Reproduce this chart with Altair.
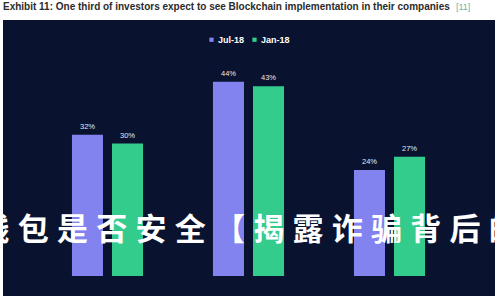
import altair as alt
import pandas as pd

# Survey answers and shares (%) for the two survey waves
categories = ["Yes", "No", "I don't know"]
jul_18 = [32, 44, 24]
jan_18 = [30, 43, 27]
series = ["Jul-18", "Jan-18"]

title_text = "Exhibit 11: One third of investors expect to see Blockchain implementation in their companies"
ref_text = "[11]"
overlay_chars = list("钱包是否安全【揭露诈骗背后的")

rows = []
for cat, a, b in zip(categories, jul_18, jan_18):
    rows.append({"answer": cat, "wave": series[0], "share": a})
    rows.append({"answer": cat, "wave": series[1], "share": b})
df = pd.DataFrame(rows)
df["label"] = df["share"].astype(str) + "%"

chars_df = pd.DataFrame({"ch": overlay_chars, "idx": range(len(overlay_chars))})

NAVY = "#09132f"
PURPLE = "#8383f0"
GREEN = "#34cc8d"
FONT = "Liberation Sans"

one = pd.DataFrame({"k": [0]})

# dark panel behind the plot
panel = alt.Chart(one).mark_rect(color=NAVY).encode(
    x=alt.value(-34), x2=alt.value(458), y=alt.value(0), y2=alt.value(276)
)

x_enc = alt.X(
    "answer:N",
    sort=categories,
    scale=alt.Scale(paddingInner=0.496, paddingOuter=0.248),
    axis=alt.Axis(
        title=None, labelAngle=0, ticks=False, labelColor="#d8dcea",
        labelFontSize=8, labelFont=FONT, labelPadding=5,
        domainColor="#7d8599", domainWidth=1,
    ),
)
xo_enc = alt.XOffset("wave:N", sort=series, scale=alt.Scale(paddingInner=0.225))
y_enc = alt.Y("share:Q", scale=alt.Scale(domain=[0, 58]), axis=None)

bars = alt.Chart(df).mark_bar().encode(
    x=x_enc,
    xOffset=xo_enc,
    y=y_enc,
    color=alt.Color(
        "wave:N",
        sort=series,
        scale=alt.Scale(domain=series, range=[PURPLE, GREEN]),
        legend=alt.Legend(
            title=None, orient="none", direction="horizontal",
            legendX=170, legendY=15, labelColor="#ffffff", labelFontSize=9,
            labelFont=FONT, labelFontWeight="bold", symbolType="square",
            symbolSize=18, symbolStrokeWidth=0, columnPadding=5, labelOffset=2,
        ),
    ),
)

labels = alt.Chart(df).mark_text(
    baseline="bottom", dy=-4, fontSize=7.5, font=FONT, color="#e6e8f2"
).encode(x=x_enc, xOffset=xo_enc, y=y_enc, text="label:N")

plot = alt.layer(panel, bars, labels)

# large white caption running across the lower half
overlay = alt.Chart(chars_df).mark_text(
    align="center", baseline="middle", fontSize=31,
    font="Noto Sans CJK SC", fontWeight="bold", color="#ffffff",
).encode(
    x=alt.X("idx:Q", scale=alt.Scale(domain=[0, 12], range=[-43, 428]), axis=None),
    y=alt.value(211),
    text="ch:N",
)

heading = alt.Chart(one).mark_text(
    text=title_text, align="left", baseline="middle", fontSize=10,
    font=FONT, fontWeight="bold", color="#2b2b2b",
).encode(x=alt.value(-34), y=alt.value(-13.5))

ref = alt.Chart(one).mark_text(
    text=ref_text, align="left", baseline="middle", fontSize=9,
    font=FONT, color="#5fb6aa",
).encode(x=alt.value(419), y=alt.value(-13.5))

chart = alt.layer(plot, overlay, heading, ref).resolve_scale(
    x="independent"
).properties(
    width=423,
    height=256,
    autosize=alt.AutoSizeParams(type="none"),
    padding={"left": 37, "top": 20, "right": 40, "bottom": 24},
    background="#ffffff",
).configure_view(stroke=None)

chart.save("out.html", embed_options={"renderer": "svg", "actions": False})
